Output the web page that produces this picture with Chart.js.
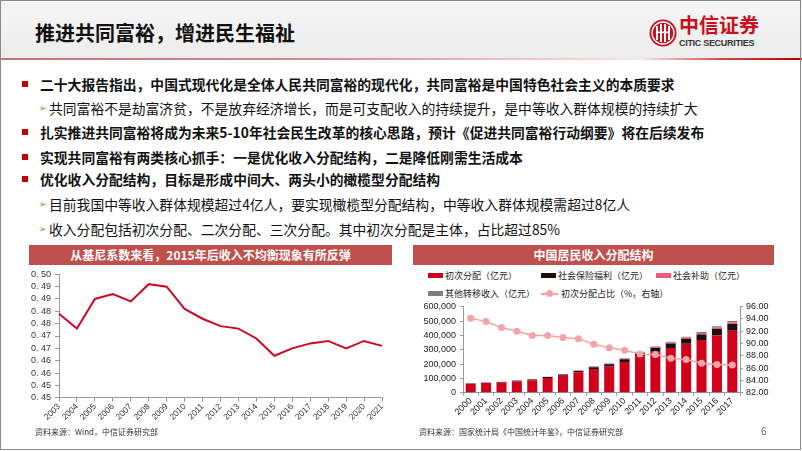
<!DOCTYPE html>
<html><head><meta charset="utf-8">
<script src="https://cdn.jsdelivr.net/npm/chart.js@4"></script>
<style>
html,body{margin:0;padding:0;}
body{width:802px;height:451px;overflow:hidden;position:relative;background:#fff;font-family:"Noto Sans CJK SC","Noto Sans",sans-serif;color:#111;}
#frame{position:absolute;left:0;top:0;width:799px;height:448px;border:1.5px solid #8a8a8a;pointer-events:none;z-index:10;}
#header{position:absolute;left:0;top:0;width:802px;height:58px;background:linear-gradient(to bottom,#f6f6f6,#ececec);}
#hline{position:absolute;left:0;top:58px;width:802px;height:2px;background:linear-gradient(to right,#c4747b 0%,#cf8d92 40%,#e9c5c8 65%,#f6e6e6 80%,#d24a4a 90%,#b30000 100%);}
#title{position:absolute;left:35px;top:19px;font-size:20px;font-weight:700;line-height:28px;color:#111;white-space:nowrap;}
#logotext{position:absolute;left:679px;top:13px;font-size:20px;font-weight:700;color:#c8101e;line-height:24px;white-space:nowrap;}
#logosub{position:absolute;left:679px;top:38px;font-family:"Liberation Sans",Arial,sans-serif;font-size:9px;font-weight:700;color:#333;white-space:nowrap;letter-spacing:-0.3px;}
.b{position:absolute;left:40px;font-size:13.8px;font-weight:700;line-height:20px;white-space:nowrap;color:#111;}
.sq{position:absolute;left:22px;width:6px;height:6px;background:#c00000;}
.s{position:absolute;left:49px;font-size:13.8px;font-weight:400;line-height:20px;white-space:nowrap;color:#111;}
.ar{position:absolute;left:39px;font-size:9px;color:#e0601a;line-height:20px;}
.tbar{position:absolute;top:245px;height:20px;background:#c0504d;color:#fff;font-size:12px;font-weight:700;line-height:20px;text-align:center;white-space:nowrap;}
.src{position:absolute;top:426px;font-size:8px;color:#333;white-space:nowrap;line-height:12px;}
.lg{position:absolute;font-size:9px;color:#222;line-height:12px;white-space:nowrap;}
.sw{position:absolute;width:15px;height:5px;}
canvas{position:absolute;}
</style></head>
<body>
<div id="header"></div>
<div id="hline"></div>
<div id="title">推进共同富裕，增进民生福祉</div>
<svg style="position:absolute;left:649px;top:19px" width="28" height="28" viewBox="0 0 28 28">
  <circle cx="14" cy="14" r="13.5" fill="#c8101e"/>
  <circle cx="14" cy="14" r="11" fill="none" stroke="#fff" stroke-width="1.3"/>
  <rect x="7" y="7" width="2" height="14" fill="#fff"/>
  <rect x="11" y="5" width="2" height="18" fill="#fff"/>
  <rect x="15" y="5" width="2" height="18" fill="#fff"/>
  <rect x="19" y="7" width="2" height="14" fill="#fff"/>
  <rect x="9" y="12.5" width="10" height="1.6" fill="#fff"/>
</svg>
<div id="logotext">中信证券</div>
<div id="logosub">CITIC SECURITIES</div>

<div class="sq" style="top:81px"></div><div class="b" style="top:74px">二十大报告指出，中国式现代化是全体人民共同富裕的现代化，共同富裕是中国特色社会主义的本质要求</div>
<div class="ar" style="top:98px">➢</div><div class="s" style="top:98px">共同富裕不是劫富济贫，不是放弃经济增长，而是可支配收入的持续提升，是中等收入群体规模的持续扩大</div>
<div class="sq" style="top:129px"></div><div class="b" style="top:122px">扎实推进共同富裕将成为未来5-10年社会民生改革的核心思路，预计《促进共同富裕行动纲要》将在后续发布</div>
<div class="sq" style="top:154px"></div><div class="b" style="top:147px">实现共同富裕有两类核心抓手：一是优化收入分配结构，二是降低刚需生活成本</div>
<div class="sq" style="top:176px"></div><div class="b" style="top:169px">优化收入分配结构，目标是形成中间大、两头小的橄榄型分配结构</div>
<div class="ar" style="top:194px">➢</div><div class="s" style="top:194px">目前我国中等收入群体规模超过4亿人，要实现橄榄型分配结构，中等收入群体规模需超过8亿人</div>
<div class="ar" style="top:219px">➢</div><div class="s" style="top:219px">收入分配包括初次分配、二次分配、三次分配。其中初次分配是主体，占比超过85%</div>

<div class="tbar" style="left:29px;width:363px">从基尼系数来看，2015年后收入不均衡现象有所反弹</div>
<div class="tbar" style="left:413px;width:361px">中国居民收入分配结构</div>

<div class="sw" style="left:428px;top:273px;background:#d0021b"></div><div class="lg" style="left:445px;top:270px">初次分配（亿元）</div>
<div class="sw" style="left:541px;top:273px;background:#1a1010"></div><div class="lg" style="left:558px;top:270px">社会保险福利（亿元）</div>
<div class="sw" style="left:656px;top:273px;background:#ee5a78"></div><div class="lg" style="left:673px;top:270px">社会补助（亿元）</div>
<div class="sw" style="left:428px;top:291px;background:#7f7f7f"></div><div class="lg" style="left:445px;top:288px">其他转移收入（亿元）</div>
<div style="position:absolute;left:541px;top:293px;width:17px;height:1.5px;background:#f4a4a8"></div>
<div style="position:absolute;left:546px;top:290px;width:7px;height:7px;border-radius:50%;background:#f4a4a8"></div>
<div class="lg" style="left:561px;top:288px">初次分配占比（%，右轴）</div>

<canvas id="gini" width="400" height="168" style="left:0;top:262px;width:400px;height:168px"></canvas>
<canvas id="inc" width="402" height="145" style="left:400px;top:295px;width:402px;height:145px"></canvas>

<div class="src" style="left:35px">资料来源：Wind，中信证券研究部</div>
<div class="src" style="left:419px">资料来源：国家统计局《中国统计年鉴》，中信证券研究部</div>
<div class="src" style="left:761px;font-size:10px;color:#666;top:425px">6</div>
<div id="frame"></div>

<script>
// ---- Gini coefficient chart data ----
const giniYears = ['2003','2004','2005','2006','2007','2008','2009','2010','2011','2012','2013','2014','2015','2016','2017','2018','2019','2020','2021'];
const giniValues = [0.479,0.473,0.485,0.487,0.484,0.491,0.490,0.481,0.477,0.474,0.473,0.469,0.462,0.465,0.467,0.468,0.465,0.468,0.466];
const giniTickLabels = ['0. 45','0. 45','0. 46','0. 46','0. 47','0. 47','0. 48','0. 48','0. 49','0. 49','0. 50'];

// ---- Income distribution chart data ----
const incomeYears = ['2000','2001','2002','2003','2004','2005','2006','2007','2008','2009','2010','2011','2012','2013','2014','2015','2016','2017'];
const primaryIncome = [61000,67000,71000,79000,87000,102000,118000,142000,165000,183000,215000,252000,285000,312000,342000,367000,401000,432000];
const socialInsurance = [2600,3200,4000,4900,5800,7000,8400,9800,13300,15400,19000,24000,26600,30800,34300,39200,43400,47600];
const socialAssistance = [700,800,1000,1200,1500,1800,2100,2500,3400,3900,4800,6100,6800,7900,8800,10000,11200,12200];
const otherTransfer = [700,1000,1000,900,700,1200,1500,1700,2300,2700,3200,3900,4600,5300,5900,6800,7400,8200];
const primaryShare = [94.1,93.6,92.6,92.0,91.3,91.3,91.0,90.8,89.9,89.3,88.9,88.3,88.2,87.6,87.4,86.8,86.6,86.5];

Chart.defaults.font.family = '"Liberation Sans", Arial, sans-serif';
Chart.defaults.color = '#333';
Chart.defaults.animation = false;

new Chart(document.getElementById('gini'), {
  type: 'line',
  data: { labels: giniYears, datasets: [{ data: giniValues, borderColor: '#cc0a26', borderWidth: 2, pointRadius: 0, tension: 0, fill: false }] },
  options: {
    responsive: false, maintainAspectRatio: false,
    layout: { padding: { top: 12.3, right: 18, left: 0, bottom: 0 } },
    plugins: { legend: { display: false }, tooltip: { enabled: false } },
    scales: {
      x: {
        offset: false,
        grid: { display: true, drawOnChartArea: false, drawTicks: true, tickLength: 4, color: '#999' },
        border: { color: '#999' },
        ticks: { minRotation: 45, maxRotation: 45, autoSkip: false, font: { size: 8.5 }, color: '#333', padding: 0 },
        afterFit: s => { s.height = 32.3; }
      },
      y: {
        min: 0.445, max: 0.495,
        grid: { display: true, drawOnChartArea: false, drawTicks: true, tickLength: 4, color: '#999' },
        border: { color: '#999' },
        ticks: { stepSize: 0.005, autoSkip: false, font: { size: 9 }, color: '#333', padding: 4,
          callback: (v, i) => giniTickLabels[i] },
        afterFit: s => { s.width = 59; }
      }
    }
  }
});

new Chart(document.getElementById('inc'), {
  type: 'bar',
  data: {
    labels: incomeYears,
    datasets: [
      { type: 'line', label: '初次分配占比（%，右轴）', data: primaryShare, yAxisID: 'y1', borderColor: '#f4a4a8', backgroundColor: '#f4a4a8', borderWidth: 1.5, pointRadius: 3.5, pointBackgroundColor: '#f4a4a8', pointBorderWidth: 0, order: 0, tension: 0 },
      { label: '初次分配（亿元）', data: primaryIncome, backgroundColor: '#d0021b', stack: 's', order: 1 },
      { label: '社会保险福利（亿元）', data: socialInsurance, backgroundColor: '#1a1010', stack: 's', order: 1 },
      { label: '社会补助（亿元）', data: socialAssistance, backgroundColor: '#ee5a78', stack: 's', order: 1 },
      { label: '其他转移收入（亿元）', data: otherTransfer, backgroundColor: '#7f7f7f', stack: 's', order: 1 }
    ]
  },
  options: {
    responsive: false, maintainAspectRatio: false,
    layout: { padding: { top: 11.7, right: 0, left: 0, bottom: 0 } },
    plugins: { legend: { display: false }, tooltip: { enabled: false } },
    datasets: { bar: { barPercentage: 0.65, categoryPercentage: 1.0 } },
    scales: {
      x: {
        stacked: true,
        grid: { display: true, drawOnChartArea: false, drawTicks: true, tickLength: 3, color: '#999' },
        border: { color: '#999' },
        ticks: { minRotation: 45, maxRotation: 45, autoSkip: false, font: { size: 9 }, color: '#222', padding: 0 },
        afterFit: s => { s.height = 47.3; }
      },
      y: {
        stacked: true, min: 0, max: 600000, position: 'left',
        grid: { display: true, drawOnChartArea: false, drawTicks: true, tickLength: 3, color: '#999' },
        border: { color: '#999' },
        ticks: { stepSize: 100000, autoSkip: false, font: { size: 9 }, color: '#222', padding: 4,
          callback: v => v.toLocaleString('en-US') },
        afterFit: s => { s.width = 63; }
      },
      y1: {
        min: 82, max: 96, position: 'right',
        grid: { display: true, drawOnChartArea: false, drawTicks: true, tickLength: 3, color: '#999' },
        border: { color: '#999' },
        ticks: { stepSize: 2, autoSkip: false, font: { size: 9 }, color: '#222', padding: 3,
          callback: v => v.toFixed(2) },
        afterFit: s => { s.width = 62; }
      }
    }
  }
});
</script>
</body></html>
